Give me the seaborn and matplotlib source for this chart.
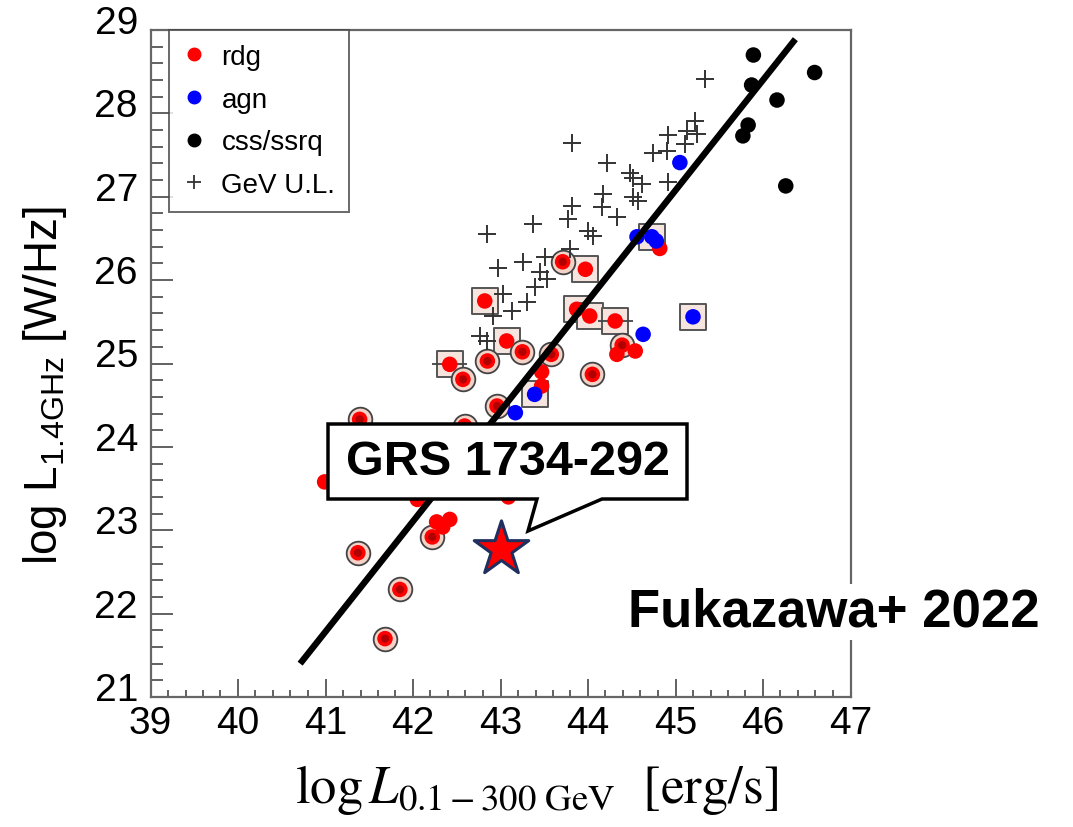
import numpy as np
import pandas as pd
import matplotlib
matplotlib.use("Agg")
import matplotlib.pyplot as plt
import seaborn as sns
from matplotlib.lines import Line2D
from matplotlib.patches import Polygon
from matplotlib.ticker import MultipleLocator
import matplotlib.transforms as mtransforms

# ---------------- data ----------------
# rdg (red) radio galaxies: mark = plain / ring / square
rdg_x = [44.82, 44.33, 44.54, 43.47, 43.47, 40.99, 42.05, 43.09, 42.27, 42.42, 42.34,
         43.71, 42.85, 42.57, 41.39, 42.96, 43.25, 43.58, 44.39, 44.05, 42.59, 42.22, 41.37, 41.85, 41.68,
         43.97, 42.82, 43.07, 42.42, 43.87, 44.02, 44.31]
rdg_y = [26.38, 25.11, 25.15, 24.90, 24.73, 23.58, 23.37, 23.40, 23.10, 23.13, 23.04,
         26.22, 25.03, 24.81, 24.33, 24.49, 25.14, 25.11, 25.22, 24.87, 24.25, 22.92, 22.73, 22.29, 21.70,
         26.13, 25.75, 25.27, 24.99, 25.65, 25.57, 25.51]
rdg_mark = ["plain"] * 11 + ["ring"] * 14 + ["square"] * 7
rdg_xerr = [0] * 25 + [0, 0, 0, 0.2, 0, 0, 0.2]

# agn (blue)
agn_x = [45.05, 44.56, 44.78, 44.63, 43.17, 45.20, 44.73, 43.39]
agn_y = [27.41, 26.52, 26.47, 25.35, 24.41, 25.56, 26.52, 24.63]
agn_mark = ["plain"] * 5 + ["square"] * 3

# css/ssrq (black)
css_x = [45.89, 46.59, 45.87, 46.16, 45.83, 45.77, 46.26]
css_y = [28.70, 28.49, 28.34, 28.16, 27.86, 27.73, 27.13]

# GeV upper limits (+)
ul_x = [45.22, 45.13, 44.91, 45.25, 45.11, 45.34, 44.74, 44.90, 43.82, 44.22,
        44.48, 44.51, 44.62, 44.91, 44.17, 43.82, 44.16, 44.51, 44.57, 44.33,
        43.77, 43.37, 42.85, 44.00, 44.06, 43.79, 43.51, 43.26, 42.97, 43.45,
        43.53, 43.39, 43.03, 43.30, 43.13, 42.91, 42.77, 42.85]
ul_y = [27.91, 27.79, 27.74, 27.75, 27.63, 28.41, 27.53, 27.55, 27.65, 27.41,
        27.29, 27.23, 27.15, 27.18, 27.03, 26.89, 26.88, 27.00, 26.95, 26.76,
        26.73, 26.67, 26.55, 26.59, 26.53, 26.37, 26.28, 26.22, 26.14, 26.10,
        26.01, 25.92, 25.83, 25.74, 25.63, 25.57, 25.33, 25.27]

# correlation line
fit_x = [40.71, 46.37]
fit_y = [21.40, 28.89]

# GRS 1734-292
grs_x = [43.0]
grs_y = [22.77]

x_ticks = [39, 40, 41, 42, 43, 44, 45, 46, 47]
y_ticks = [21, 22, 23, 24, 25, 26, 27, 28, 29]

# ---------------- frames ----------------
df = pd.concat([
    pd.DataFrame({"x": rdg_x, "y": rdg_y, "cls": "rdg", "mark": rdg_mark, "xerr": rdg_xerr}),
    pd.DataFrame({"x": agn_x, "y": agn_y, "cls": "agn", "mark": agn_mark, "xerr": 0.0}),
    pd.DataFrame({"x": css_x, "y": css_y, "cls": "css/ssrq", "mark": "plain", "xerr": 0.0}),
], ignore_index=True)
ul = pd.DataFrame({"x": ul_x, "y": ul_y})
palette = {"rdg": "#ff0000", "agn": "#0000ff", "css/ssrq": "#000000"}

# ---------------- style ----------------
sns.set_style("white")
plt.rcParams["font.family"] = ["Liberation Sans", "DejaVu Sans"]
plt.rcParams["text.color"] = "black"
plt.rcParams["axes.labelcolor"] = "black"
plt.rcParams["mathtext.fontset"] = "custom"
plt.rcParams["mathtext.rm"] = "Liberation Sans"
plt.rcParams["mathtext.it"] = "Liberation Sans:italic"
plt.rcParams["mathtext.bf"] = "Liberation Sans:bold"
plt.rcParams["mathtext.default"] = "regular"

fig = plt.figure(figsize=(10.73, 8.28), dpi=100)
W, H = 1073, 828
ax = fig.add_axes([150.5 / W, (H - 698) / H, 700 / W, 667 / H])

# squares and rings (background of marked points)
sq = df[df["mark"] == "square"]
rg = df[df["mark"] == "ring"]
sns.scatterplot(data=sq, x="x", y="y", marker="s", s=330, color="#f6e4df",
                edgecolor="#555555", linewidth=1.4, ax=ax, legend=False, zorder=2)
sns.scatterplot(data=rg, x="x", y="y", marker="o", s=290, color="#f3d2c8",
                edgecolor="#444444", linewidth=1.3, ax=ax, legend=False, zorder=2)

# error bars
eb = df[df["xerr"] > 0]
ax.errorbar(eb["x"], eb["y"], xerr=eb["xerr"], fmt="none", ecolor="#444444",
            elinewidth=1.3, capsize=0, zorder=2.5)

# upper limits
sns.scatterplot(data=ul, x="x", y="y", marker="+", s=150, color="#333333",
                linewidth=1.4, ax=ax, legend=False, zorder=3)

# filled points
sns.scatterplot(data=df, x="x", y="y", hue="cls", palette=palette, s=125,
                edgecolor="none", ax=ax, legend=False, zorder=4)
# darker centres for ringed points
sns.scatterplot(data=rg, x="x", y="y", s=35, color="#b00000", edgecolor="none",
                ax=ax, legend=False, zorder=4.5)

# correlation line
sns.lineplot(x=fit_x, y=fit_y, color="black", linewidth=4.6, ax=ax, zorder=5,
             solid_capstyle="butt")

# star
ax.scatter(grs_x, grs_y, marker="*", s=1700, facecolor="#ff0000",
           edgecolor="#1f2f5f", linewidth=2.2, zorder=7, clip_on=False)

# ---------------- axes ----------------
ax.set_xlim(39, 47)
ax.set_ylim(21, 29)
ax.set_xticks(x_ticks)
ax.set_yticks(y_ticks)
ax.xaxis.set_minor_locator(MultipleLocator(0.2))
ax.yaxis.set_minor_locator(MultipleLocator(0.2))
ax.set_xlabel("")
ax.set_ylabel("")
ax.tick_params(axis="both", which="both", direction="in", color="#555555",
               labelcolor="black", width=1.3, top=False, right=False,
               bottom=True, left=True)
ax.tick_params(axis="y", which="major", length=16, labelsize=28, pad=9)
ax.tick_params(axis="y", which="minor", length=8.5)
ax.tick_params(axis="x", which="major", length=13, labelsize=28, pad=6)
ax.tick_params(axis="x", which="minor", length=5)
for s in ax.spines.values():
    s.set_color("#666666")
    s.set_linewidth(1.6)

off = mtransforms.ScaledTranslation(0, 8 / 72, fig.dpi_scale_trans)
for lab in ax.get_yticklabels():
    lab.set_transform(lab.get_transform() + off)

# legend
handles = [
    Line2D([], [], ls="", marker="o", color="#ff0000", markersize=9),
    Line2D([], [], ls="", marker="o", color="#0000ff", markersize=9),
    Line2D([], [], ls="", marker="o", color="#000000", markersize=9),
    Line2D([], [], ls="", marker="+", color="#333333", markersize=10, markeredgewidth=1.3),
]
leg = ax.legend(handles, ["rdg", "agn", "css/ssrq", "GeV U.L."], loc="upper left",
                bbox_to_anchor=(0.026, 1.0), borderaxespad=0, frameon=True,
                fancybox=False, edgecolor="#444444", fontsize=20, handlelength=0.8,
                handletextpad=0.6, labelspacing=0.6, borderpad=0.5)
leg.get_frame().set_linewidth(1.4)
leg.set_zorder(10)
for t in leg.get_texts():
    t.set_color("black")

# axis titles
fig.text(45 / W, 1 - 385 / H, r"log L$_{1.4GHz}$ [W/Hz]", rotation=90,
         ha="center", va="center", fontsize=33, color="black")
fig.text(536 / W, 1 - 790 / H, r"$\log \mathit{L}_{0.1-300\ \mathrm{GeV}}$  [erg/s]",
         ha="center", va="center", fontsize=38, family="STIXGeneral",
         math_fontfamily="stix", color="black")

# callout box
def fp(px, py):
    return (px / W, 1 - py / H)

poly = Polygon([fp(328, 425), fp(687, 425), fp(687, 500), fp(602, 500),
                fp(528, 532), fp(537, 500), fp(328, 500)], closed=True,
               transform=fig.transFigure, facecolor="white", edgecolor="black",
               linewidth=2.5, zorder=20)
fig.add_artist(poly)
fig.text(507.5 / W, 1 - 463 / H, "GRS 1734-292", ha="center", va="center",
         fontsize=35, fontweight="bold", zorder=21, color="black")

fig.text(628 / W, 1 - 613 / H, "Fukazawa+ 2022", ha="left", va="center",
         fontsize=38, fontweight="bold", zorder=21, color="black",
         bbox=dict(facecolor="white", edgecolor="none", pad=2))

fig.savefig("out.png", dpi=100, facecolor="white")
